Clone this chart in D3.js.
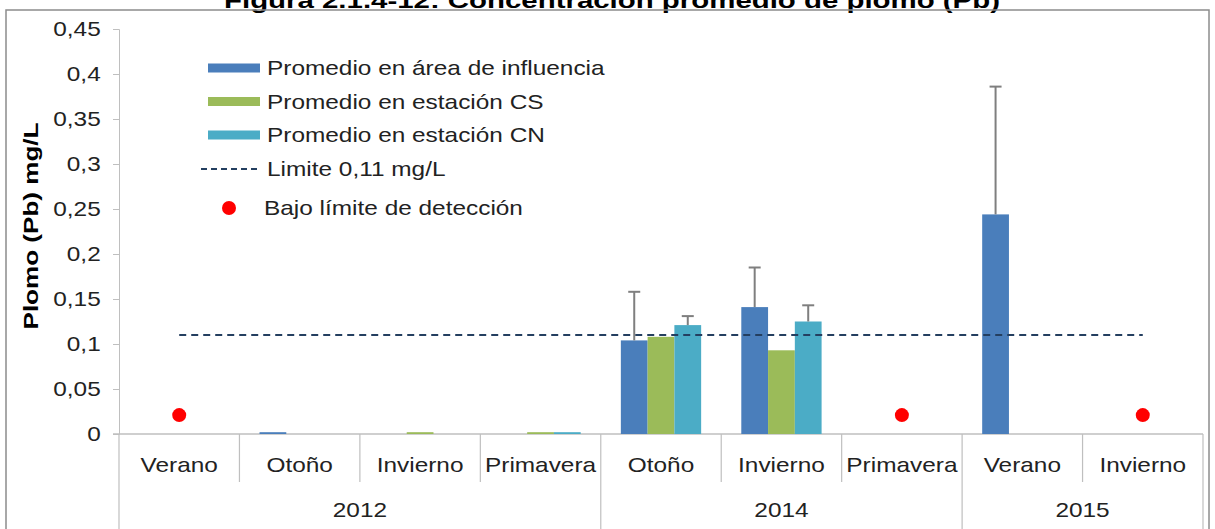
<!DOCTYPE html>
<html>
<head>
<meta charset="utf-8">
<script src="https://cdn.jsdelivr.net/npm/d3@7"></script>
<style>
  body { margin: 0; background: #fff; }
  svg { display: block; font-family: "Liberation Sans", Arial, sans-serif; }
</style>
</head>
<body>
<div id="chart"></div>
<script>
// categories (season + year)
var seasons = ["Verano", "Otoño", "Invierno", "Primavera", "Otoño", "Invierno", "Primavera", "Verano", "Invierno"];
var yearOf  = ["2012", "2012", "2012", "2012", "2014", "2014", "2014", "2015", "2015"];

// series values (mg/L), null = no bar
var areaInfluencia = [null, 0.002, null, null, 0.104, 0.141, null, 0.244, null];
var estacionCS     = [null, null, 0.002, 0.002, 0.108, 0.093, null, null, null];
var estacionCN     = [null, null, null, 0.002, 0.121, 0.125, null, null, null];

// upper error bar amounts
var errArea = [null, null, null, null, 0.054, 0.044, null, 0.142, null];
var errCN   = [null, null, null, null, 0.010, 0.018, null, null, null];

var limite = 0.11;
var bajoLimite = [0.021, null, null, null, null, null, 0.021, null, 0.021];

var yTicks = [0, 0.05, 0.1, 0.15, 0.2, 0.25, 0.3, 0.35, 0.4, 0.45];

var seriesNames = ["Promedio en área de influencia", "Promedio en estación CS", "Promedio en estación CN"];
var seriesColors = ["#4a7ebb", "#9bbb59", "#4bacc6"];

var W = 1215, H = 529;
var sx = 1.22; // text in the original is a bit wide
var svg = d3.select("#chart").append("svg").attr("width", W).attr("height", H);

// title (cut at the top in the original)
svg.append("text")
  .attr("x", 612).attr("y", 8)
  .attr("text-anchor", "middle")
  .attr("textLength", 776).attr("lengthAdjust", "spacingAndGlyphs")
  .style("font-size", "22px").style("font-weight", "bold")
  .text("Figura 2.1.4-12: Concentración promedio de plomo (Pb)");

// frame
svg.append("rect")
  .attr("x", 6).attr("y", 10).attr("width", 1203).attr("height", 540)
  .attr("fill", "none").attr("stroke", "#8c8c8c").attr("stroke-width", 1.5);

var x = d3.scaleBand().domain(d3.range(seasons.length)).range([119, 1203]);
var inner = d3.scaleBand().domain([0, 1, 2]).range([x.bandwidth() / 6, x.bandwidth() * 5 / 6]);
var y = d3.scaleLinear().domain([0, 0.45]).range([434, 29]);

var fmt = function(d){ return String(d).replace(".", ","); };

// y axis
var yAxis = svg.append("g")
  .attr("transform", "translate(119,0)")
  .call(d3.axisLeft(y).tickValues(yTicks).tickSize(6).tickFormat(fmt));
yAxis.select(".domain").attr("stroke", "#bfbfbf");
yAxis.selectAll(".tick line").attr("stroke", "#bfbfbf");
yAxis.selectAll(".tick text")
  .attr("x", -15)
  .attr("transform", "scale(" + sx + ",1)")
  .style("font-size", "20px").attr("fill", "#222");

svg.append("text")
  .attr("transform", "translate(38,226) rotate(-90)")
  .attr("text-anchor", "middle")
  .attr("textLength", 207).attr("lengthAdjust", "spacingAndGlyphs")
  .style("font-size", "21px").style("font-weight", "bold")
  .text("Plomo (Pb) mg/L");

// x axis: baseline, category dividers, labels
svg.append("line")
  .attr("x1", 113).attr("x2", 1203).attr("y1", y(0)).attr("y2", y(0))
  .attr("stroke", "#bfbfbf").attr("stroke-width", 1.5);

var bounds = d3.range(seasons.length + 1);
svg.append("g").selectAll("line")
  .data(bounds)
  .enter().append("line")
    .attr("x1", function(i){ return i < seasons.length ? x(i) : x.range()[1]; })
    .attr("x2", function(i){ return i < seasons.length ? x(i) : x.range()[1]; })
    .attr("y1", y(0))
    .attr("y2", function(i){
      var yearEdge = i == 0 || i == seasons.length || yearOf[i] != yearOf[i - 1];
      return yearEdge ? H : 482;
    })
    .attr("stroke", "#bfbfbf").attr("stroke-width", 1.2);

svg.append("g").selectAll("text")
  .data(seasons)
  .enter().append("text")
    .attr("transform", function(d, i){ return "translate(" + (x(i) + x.bandwidth() / 2) + ",472) scale(" + sx + ",1)"; })
    .attr("text-anchor", "middle")
    .style("font-size", "20px").attr("fill", "#222")
    .text(function(d){ return d; });

var years = Array.from(new Set(yearOf));
svg.append("g").selectAll("text")
  .data(years)
  .enter().append("text")
    .attr("transform", function(yr){
      var idx = d3.range(seasons.length).filter(function(i){ return yearOf[i] == yr; });
      var cx = (x(idx[0]) + x(idx[idx.length - 1]) + x.bandwidth()) / 2;
      return "translate(" + cx + ",517) scale(" + sx + ",1)";
    })
    .attr("text-anchor", "middle")
    .style("font-size", "20px").attr("fill", "#222")
    .text(function(d){ return d; });

// bars
var allSeries = [areaInfluencia, estacionCS, estacionCN];
allSeries.forEach(function(values, s){
  svg.append("g").selectAll("rect")
    .data(values.map(function(v, i){ return {i: i, v: v}; }).filter(function(d){ return d.v != null; }))
    .enter().append("rect")
      .attr("x", function(d){ return x(d.i) + inner(s); })
      .attr("width", inner.bandwidth())
      .attr("y", function(d){ return y(d.v); })
      .attr("height", function(d){ return y(0) - y(d.v); })
      .attr("fill", seriesColors[s]);
});

// limit line
svg.append("line")
  .attr("x1", x(0) + x.bandwidth() / 2)
  .attr("x2", x(seasons.length - 1) + x.bandwidth() / 2)
  .attr("y1", y(limite)).attr("y2", y(limite))
  .attr("stroke", "#243f60").attr("stroke-width", 2.2)
  .attr("stroke-dasharray", "7,5");

// error bars
function errorBars(values, errs, s){
  var data = values.map(function(v, i){ return {i: i, v: v, e: errs[i]}; })
    .filter(function(d){ return d.e != null; });
  var g = svg.append("g").attr("stroke", "#7f7f7f").attr("stroke-width", 2);
  g.selectAll("line.v").data(data).enter().append("line")
    .attr("x1", function(d){ return x(d.i) + inner(s) + inner.bandwidth() / 2; })
    .attr("x2", function(d){ return x(d.i) + inner(s) + inner.bandwidth() / 2; })
    .attr("y1", function(d){ return y(d.v); })
    .attr("y2", function(d){ return y(d.v + d.e); });
  g.selectAll("line.c").data(data).enter().append("line")
    .attr("x1", function(d){ return x(d.i) + inner(s) + inner.bandwidth() / 2 - 6; })
    .attr("x2", function(d){ return x(d.i) + inner(s) + inner.bandwidth() / 2 + 6; })
    .attr("y1", function(d){ return y(d.v + d.e); })
    .attr("y2", function(d){ return y(d.v + d.e); });
}
errorBars(areaInfluencia, errArea, 0);
errorBars(estacionCN, errCN, 2);

// below detection limit markers
svg.append("g").selectAll("circle")
  .data(bajoLimite.map(function(v, i){ return {i: i, v: v}; }).filter(function(d){ return d.v != null; }))
  .enter().append("circle")
    .attr("cx", function(d){ return x(d.i) + x.bandwidth() / 2; })
    .attr("cy", function(d){ return y(d.v); })
    .attr("r", 7)
    .attr("fill", "#ff0000");

// legend
var legendRows = [68, 101.5, 135, 169, 208];
var legend = svg.append("g");
seriesNames.forEach(function(name, s){
  legend.append("rect")
    .attr("x", 208).attr("y", legendRows[s] - 4.5)
    .attr("width", 52).attr("height", 9)
    .attr("fill", seriesColors[s]);
});
legend.append("line")
  .attr("x1", 201).attr("x2", 260).attr("y1", legendRows[3]).attr("y2", legendRows[3])
  .attr("stroke", "#243f60").attr("stroke-width", 2)
  .attr("stroke-dasharray", "6,4");
legend.append("circle")
  .attr("cx", 229).attr("cy", legendRows[4]).attr("r", 7).attr("fill", "#ff0000");
var legendLabels = seriesNames.concat(["Limite 0,11 mg/L", "Bajo límite de detección"]);
legend.selectAll("text")
  .data(legendLabels)
  .enter().append("text")
    .attr("transform", function(d, i){ return "translate(" + (i == 4 ? 264 : 267) + "," + (legendRows[i] + 7) + ") scale(" + sx + ",1)"; })
    .style("font-size", "20px").attr("fill", "#222")
    .text(function(d){ return d; });
</script>
</body>
</html>
